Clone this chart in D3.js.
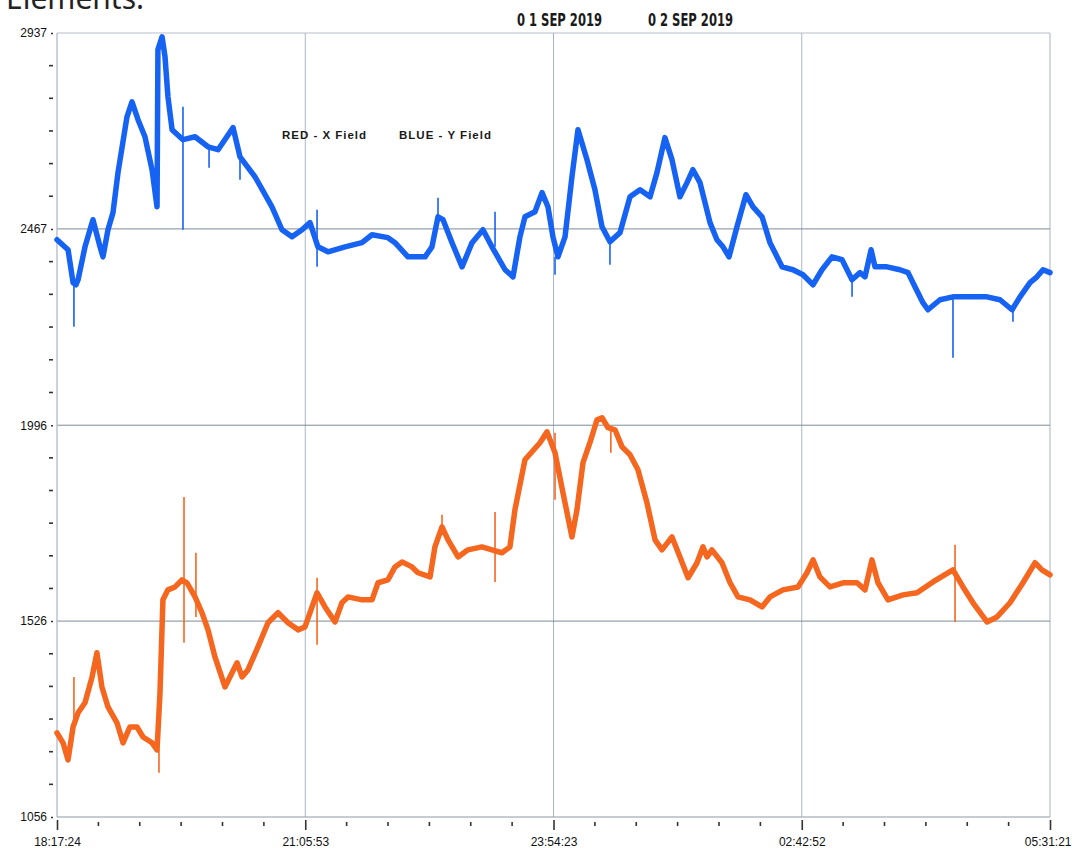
<!DOCTYPE html>
<html>
<head>
<meta charset="utf-8">
<script src="https://cdn.jsdelivr.net/npm/d3@7"></script>
<style>
  html, body { margin: 0; padding: 0; background: #ffffff; }
  svg { display: block; }
</style>
</head>
<body>
<svg id="chart" width="1072" height="848"></svg>
<script>
// ---- DATA (time in minutes since 18:17:24, field values) ----
const xTickLabels = ["18:17:24", "21:05:53", "23:54:23", "02:42:52", "05:31:21"];
const xTickMinutes = [0, 168.49, 336.98, 505.47, 673.95];
const yTickValues = [1056, 1526, 1996, 2467, 2937];
const dateLabels = ["0 1 SEP 2019", "0 2 SEP 2019"];
const legendLabels = ["RED - X Field", "BLUE - Y Field"];

// Y field (blue)
const blueT = [0, 7.5, 10.9, 12.9, 14.3, 19.0, 24.4, 29.2, 31.2, 34.6, 38.0, 41.4, 47.5, 50.9, 55.0, 59.7, 64.5, 67.9,
  68.5, 71.3, 73.3, 75.3, 78.1, 85.5, 93.7, 102.5, 109.3, 119.5, 124.2, 134.4, 145.9, 152.7, 159.5, 166.3, 171.7,
  177.1, 183.9, 195.5, 207.0, 213.8, 224.6, 229.4, 238.2, 249.8, 254.5, 258.6, 262.0, 268.1, 274.9, 281.7, 289.1,
  295.2, 304.1, 309.5, 314.2, 317.6, 324.4, 329.2, 333.2, 336.6, 340.0, 344.8, 349.5, 353.6, 359.7, 365.1, 369.9,
  375.3, 382.1, 388.9, 395.7, 402.5, 407.2, 412.6, 417.4, 422.8, 427.6, 431.6, 436.4, 443.2, 447.9, 452.0, 456.1,
  461.5, 467.6, 472.4, 478.5, 483.9, 492.1, 499.5, 506.3, 513.1, 519.2, 526.0, 532.8, 539.6, 545.0, 548.4, 552.5,
  555.2, 563.3, 572.1, 577.6, 582.3, 587.7, 591.1, 599.3, 608.1, 617.6, 631.2, 640.0, 648.2, 653.6, 660.4, 665.1,
  669.2, 673.95];
const blueV = [2441, 2417, 2338, 2333, 2345, 2424, 2489, 2424, 2400, 2465, 2506, 2602, 2736, 2772, 2729, 2688, 2609, 2520,
  2897, 2928, 2880, 2784, 2705, 2681, 2688, 2664, 2657, 2710, 2640, 2592, 2520, 2465, 2448, 2465, 2482,
  2424, 2412, 2424, 2434, 2453, 2446, 2434, 2400, 2400, 2424, 2496, 2489, 2434, 2376, 2434, 2465,
  2424, 2369, 2352, 2448, 2496, 2508, 2554, 2520, 2448, 2400, 2448, 2592, 2705, 2633, 2561, 2472,
  2436, 2458, 2544, 2561, 2544, 2602, 2686, 2633, 2544, 2578, 2609, 2578, 2482, 2441, 2424, 2400,
  2472, 2549, 2520, 2496, 2434, 2376, 2369, 2357, 2333, 2369, 2400, 2393, 2345, 2362, 2352, 2417,
  2376, 2376, 2369, 2362, 2328, 2290, 2273, 2297, 2304, 2304, 2304, 2297, 2273, 2304, 2338, 2352,
  2369, 2362];
// spikes: time, from value, to value
const blueSpikeT  = [11.5, 85.5, 103.2, 124.2, 176.5, 258.6, 297.3, 338.0, 375.3, 539.6, 608.1, 648.8];
const blueSpikeV0 = [2338, 2760, 2664, 2640, 2513, 2496, 2424, 2400, 2436, 2345, 2304, 2273];
const blueSpikeV1 = [2232, 2465, 2614, 2585, 2376, 2542, 2508, 2357, 2381, 2304, 2158, 2244];

// X field (red)
const redT = [0, 4.1, 7.5, 10.9, 14.3, 19.0, 23.8, 27.1, 30.5, 34.6, 40.7, 44.8, 49.5, 54.3, 58.4, 64.5, 67.9,
  69.9, 71.9, 75.3, 80.1, 84.8, 88.2, 93.7, 98.4, 102.5, 107.2, 114.0, 118.8, 122.2, 125.6, 129.6, 136.4, 143.2,
  150.0, 156.8, 163.6, 168.3, 173.1, 176.5, 181.9, 188.7, 193.4, 197.5, 207.0, 213.8, 217.9, 224.6, 229.4, 234.2,
  240.9, 245.0, 253.2, 256.5, 261.3, 265.4, 272.2, 278.9, 288.4, 295.2, 302.0, 307.4, 310.8, 317.6, 327.8, 332.6,
  338.0, 343.4, 349.5, 352.9, 357.0, 361.7, 366.5, 369.9, 374.0, 378.7, 383.5, 388.9, 394.3, 400.4, 405.9, 410.6,
  417.4, 422.8, 428.3, 434.4, 438.4, 441.2, 444.5, 451.3, 456.8, 462.2, 470.3, 478.5, 483.9, 492.7, 502.9, 509.0,
  513.1, 517.8, 524.6, 533.5, 543.0, 548.4, 553.1, 557.2, 564.0, 574.2, 583.7, 594.5, 608.1, 614.9, 621.7, 631.2,
  638.0, 646.8, 655.6, 663.8, 668.5, 673.95];
const redV = [1258, 1234, 1193, 1272, 1306, 1330, 1392, 1450, 1368, 1320, 1282, 1234, 1272, 1272, 1248, 1234, 1217,
  1354, 1577, 1601, 1608, 1625, 1618, 1584, 1546, 1505, 1440, 1368, 1402, 1426, 1392, 1409, 1464, 1522,
  1546, 1522, 1505, 1512, 1560, 1594, 1560, 1524, 1570, 1584, 1577, 1577, 1618, 1625, 1656, 1668,
  1656, 1642, 1632, 1704, 1752, 1721, 1680, 1697, 1704, 1697, 1690, 1704, 1793, 1913, 1954, 1980,
  1930, 1834, 1728, 1793, 1906, 1954, 2009, 2014, 1990, 1985, 1944, 1925, 1889, 1810, 1721, 1697,
  1728, 1680, 1630, 1666, 1704, 1680, 1697, 1666, 1618, 1584, 1577, 1560, 1584, 1601, 1608, 1642,
  1673, 1632, 1608, 1618, 1618, 1601, 1673, 1618, 1577, 1589, 1594, 1620, 1649, 1608, 1570, 1524,
  1536, 1570, 1618, 1666, 1649, 1637];
const redSpikeT  = [11.5, 69.2, 86.2, 94.3, 176.5, 261.3, 297.3, 338.0, 375.9, 609.5];
const redSpikeV0 = [1272, 1217, 1824, 1690, 1630, 1752, 1788, 1978, 1990, 1709];
const redSpikeV1 = [1392, 1162, 1474, 1536, 1469, 1781, 1620, 1817, 1930, 1524];

// ---- LAYOUT ----
const svg = d3.select("#chart");
const plotL = 57, plotR = 1050, plotT = 33, plotB = 817;
const x = d3.scaleLinear().domain([0, 673.95]).range([plotL, plotR]);
const y = d3.scaleLinear().domain([1056, 2937]).range([plotB, plotT]);

const blueColor = "#1662f2";
const redColor = "#f5661f";

// Title fragment at very top (cut off, as in the reference)
svg.append("text")
  .attr("x", 6).attr("y", 9)
  .attr("font-family", "Noto Sans, Open Sans, sans-serif")
  .attr("font-size", 30)
  .attr("fill", "#222")
  .text("Elements:");

// Date labels
const dateX = [517, 648];
svg.selectAll("text.date").data(dateLabels).join("text")
  .attr("class", "date")
  .attr("x", (d, i) => dateX[i]).attr("y", 26)
  .attr("font-family", "DejaVu Sans Condensed, Liberation Sans Narrow, sans-serif")
  .attr("font-weight", "bold")
  .attr("font-size", 17)
  .attr("textLength", 85)
  .attr("lengthAdjust", "spacingAndGlyphs")
  .attr("fill", "#1a1a1a")
  .text(d => d);

// Frame (top and right)
svg.append("line").attr("x1", plotL).attr("x2", plotR).attr("y1", plotT).attr("y2", plotT)
  .attr("stroke", "#b8c0cc").attr("stroke-width", 1.2);
svg.append("line").attr("x1", plotR).attr("x2", plotR).attr("y1", plotT).attr("y2", plotB)
  .attr("stroke", "#b8c0cc").attr("stroke-width", 1.2);

// Vertical gridlines (inner major ticks)
svg.selectAll("line.vgrid").data(xTickMinutes.slice(1, -1)).join("line")
  .attr("class", "vgrid")
  .attr("x1", d => x(d)).attr("x2", d => x(d))
  .attr("y1", plotT).attr("y2", plotB)
  .attr("stroke", "#aab6c8").attr("stroke-width", 1);

// Horizontal gridlines
svg.selectAll("line.hgrid").data(yTickValues.slice(1, -1)).join("line")
  .attr("class", "hgrid")
  .attr("x1", plotL).attr("x2", plotR)
  .attr("y1", d => y(d)).attr("y2", d => y(d))
  .attr("stroke", "#7f8b98").attr("stroke-width", 1);

// Axes lines
svg.append("line").attr("x1", plotL).attr("x2", plotL).attr("y1", plotT).attr("y2", plotB)
  .attr("stroke", "#a9b4c4").attr("stroke-width", 1.2);
svg.append("line").attr("x1", plotL).attr("x2", plotR).attr("y1", plotB).attr("y2", plotB)
  .attr("stroke", "#8e99a6").attr("stroke-width", 1.2);

// Y axis via d3.axisLeft (major labels)
const yAxis = d3.axisLeft(y).tickValues(yTickValues).tickSize(2).tickPadding(4).tickFormat(d3.format("d"));
const gy = svg.append("g").attr("transform", `translate(${plotL - 4},0)`).call(yAxis);
gy.select(".domain").remove();
gy.selectAll("text").attr("font-family", "Liberation Sans, Arial, sans-serif").attr("font-size", 12).attr("fill", "#111");
gy.selectAll(".tick line").attr("stroke", "#333").attr("stroke-width", 1.5);

// Y minor ticks
const yMinor = [];
for (let i = 0; i < yTickValues.length - 1; i++) {
  const a = yTickValues[i], b = yTickValues[i + 1];
  for (let k = 1; k < 6; k++) yMinor.push(a + (b - a) * k / 6);
}
svg.selectAll("line.yminor").data(yMinor).join("line")
  .attr("x1", 49).attr("x2", 53)
  .attr("y1", d => y(d)).attr("y2", d => y(d))
  .attr("stroke", "#333").attr("stroke-width", 1.6);

// X axis
const xAxis = d3.axisBottom(x).tickValues(xTickMinutes).tickSize(10).tickPadding(7)
  .tickFormat((d, i) => xTickLabels[i]);
const gx = svg.append("g").attr("transform", `translate(0,${plotB + 3})`).call(xAxis);
gx.select(".domain").remove();
gx.selectAll("text").attr("font-family", "Liberation Sans, Arial, sans-serif").attr("font-size", 12).attr("fill", "#111");
gx.selectAll(".tick line").attr("stroke", "#333").attr("stroke-width", 1.6);
// keep the last label inside the page, as in the reference
gx.selectAll(".tick text").filter((d, i) => i === xTickMinutes.length - 1)
  .attr("text-anchor", "end").attr("dx", 21);

// X minor ticks
const xMinor = [];
for (let i = 0; i < xTickMinutes.length - 1; i++) {
  const a = xTickMinutes[i], b = xTickMinutes[i + 1];
  for (let k = 1; k < 6; k++) xMinor.push(a + (b - a) * k / 6);
}
svg.selectAll("line.xminor").data(xMinor).join("line")
  .attr("x1", d => x(d)).attr("x2", d => x(d))
  .attr("y1", plotB + 5).attr("y2", plotB + 9)
  .attr("stroke", "#333").attr("stroke-width", 1.6);

// Legend text
const legendX = [282, 399];
const legendW = [84, 92];
svg.selectAll("text.legend").data(legendLabels).join("text")
  .attr("class", "legend")
  .attr("x", (d, i) => legendX[i]).attr("y", 139)
  .attr("font-family", "Liberation Sans, Arial, sans-serif")
  .attr("font-weight", "bold")
  .attr("font-size", 11.5)
  .attr("textLength", (d, i) => legendW[i])
  .attr("lengthAdjust", "spacing")
  .attr("fill", "#1a1a1a")
  .text(d => d);

// Lines
const line = d3.line().x(d => x(d[0])).y(d => y(d[1])).curve(d3.curveLinear);
const blueData = blueT.map((t, i) => [t, blueV[i]]);
const redData = redT.map((t, i) => [t, redV[i]]);

function drawSeries(data, color, sT, sV0, sV1) {
  const g = svg.append("g");
  g.selectAll("line.spike").data(sT).join("line")
    .attr("x1", d => x(d)).attr("x2", d => x(d))
    .attr("y1", (d, i) => y(sV0[i])).attr("y2", (d, i) => y(sV1[i]))
    .attr("stroke", color).attr("stroke-width", 1.6);
  g.append("path").datum(data)
    .attr("d", line)
    .attr("fill", "none")
    .attr("stroke", color)
    .attr("stroke-width", 5.5)
    .attr("stroke-linejoin", "round")
    .attr("stroke-linecap", "round");
}
drawSeries(redData, redColor, redSpikeT, redSpikeV0, redSpikeV1);
drawSeries(blueData, blueColor, blueSpikeT, blueSpikeV0, blueSpikeV1);
</script>
</body>
</html>
